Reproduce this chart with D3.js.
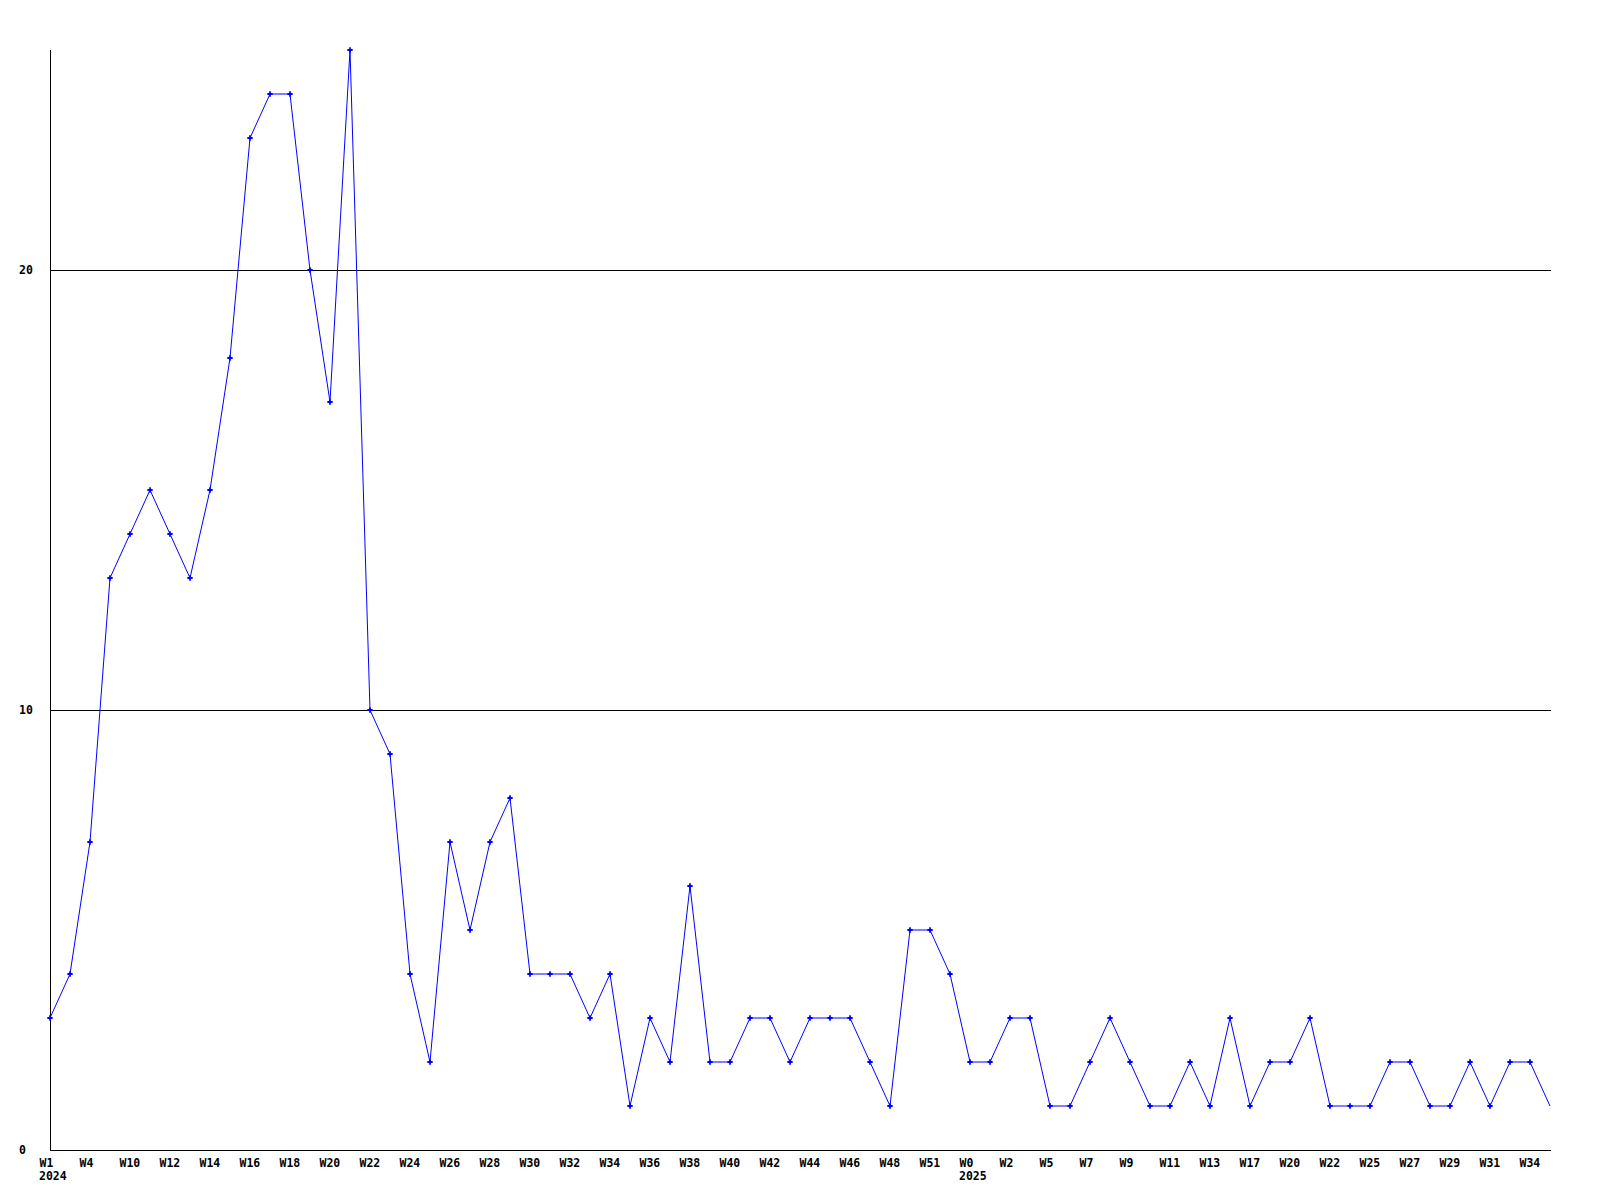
<!DOCTYPE html>
<html>
<head>
<meta charset="utf-8">
<script src="https://cdn.jsdelivr.net/npm/d3@7"></script>
<style>
  html, body { margin: 0; padding: 0; background: #fff; }
  svg { display: block; }
  text { font-family: "DejaVu Sans Mono", "Liberation Mono", monospace; font-weight: bold; font-size: 11.5px; fill: #000; }
</style>
</head>
<body>
<svg id="chart" width="1600" height="1200"></svg>
<script>
// Weekly counts, one per point (2024 W1 ... 2025 W35)
const values = [3, 4, 7, 13, 14, 15, 14, 13, 15, 18,
                23, 24, 24, 20, 17, 25, 10, 9, 4, 2,
                7, 5, 7, 8, 4, 4, 4, 3, 4, 1,
                3, 2, 6, 2, 2, 3, 3, 2, 3, 3,
                3, 2, 1, 5, 5, 4, 2, 2, 3, 3,
                1, 1, 2, 3, 2, 1, 1, 2, 1, 3,
                1, 2, 2, 3, 1, 1, 1, 2, 2, 1,
                1, 2, 1, 2, 2, 1];
// Tick labels shown under every second point
const tickLabels = ["W1", "W4", "W10", "W12", "W14", "W16", "W18", "W20", "W22", "W24",
                    "W26", "W28", "W30", "W32", "W34", "W36", "W38", "W40", "W42", "W44",
                    "W46", "W48", "W51", "W0", "W2", "W5", "W7", "W9", "W11", "W13",
                    "W17", "W20", "W22", "W25", "W27", "W29", "W31", "W34"];
const yearIndex = [0, 46];
const yearLabels = ["2024", "2025"];
const yTicks = [0, 10, 20];

const svg = d3.select("#chart");
const mLeft = 50, mRight = 1550, mTop = 50, mBottom = 1150;

const x = d3.scaleLinear().domain([0, values.length - 1]).range([mLeft, mRight]);
const y = d3.scaleLinear().domain([0, 25]).range([mBottom, mTop]);

// gridlines
svg.append("g").selectAll("line").data(yTicks.filter(d => d > 0)).join("line")
  .attr("x1", mLeft).attr("x2", mRight + 1)
  .attr("y1", d => Math.round(y(d)) + 0.5).attr("y2", d => Math.round(y(d)) + 0.5)
  .attr("stroke", "#000").attr("stroke-width", 1);

// axes lines
svg.append("line").attr("x1", mLeft + 0.5).attr("x2", mLeft + 0.5).attr("y1", mTop).attr("y2", mBottom + 1)
  .attr("stroke", "#000");
svg.append("line").attr("x1", mLeft).attr("x2", mRight + 1).attr("y1", mBottom + 0.5).attr("y2", mBottom + 0.5)
  .attr("stroke", "#000");

// y labels
svg.append("g").selectAll("text").data(yTicks).join("text")
  .attr("x", 19).attr("y", d => y(d) + 4)
  .text(d => d);

// x axis tick labels
const tickIdx = tickLabels.map((_, i) => i * 2);
const xAxis = d3.axisBottom(x).tickValues(tickIdx).tickSize(0).tickPadding(0)
  .tickFormat((d, i) => tickLabels[i]);
const gx = svg.append("g").attr("transform", `translate(0, ${mBottom + 17})`).call(xAxis);
gx.select(".domain").remove();
gx.selectAll("text")
  .attr("text-anchor", "start")
  .attr("dx", -11)
  .attr("dy", 0)
  .attr("y", 0)
  .style("font-family", "'DejaVu Sans Mono', monospace")
  .style("font-weight", "bold")
  .style("font-size", "11.5px")
  .attr("fill", "#000");

// year labels
svg.append("g").selectAll("text").data(yearIndex).join("text")
  .attr("x", d => x(d) - 11).attr("y", mBottom + 30)
  .text((d, i) => yearLabels[i]);

// line
const line = d3.line().x((d, i) => x(i)).y(d => y(d));
svg.append("path").datum(values)
  .attr("d", line)
  .attr("fill", "none")
  .attr("stroke", "#0000ff")
  .attr("stroke-width", 1);

// markers (last point has none)
svg.append("g").selectAll("path").data(values.slice(0, -1)).join("path")
  .attr("transform", (d, i) => `translate(${x(i)}, ${y(d)})`)
  .attr("d", d3.symbol(d3.symbolCross).size(16))
  .attr("fill", "#0000ff");
</script>
</body>
</html>
